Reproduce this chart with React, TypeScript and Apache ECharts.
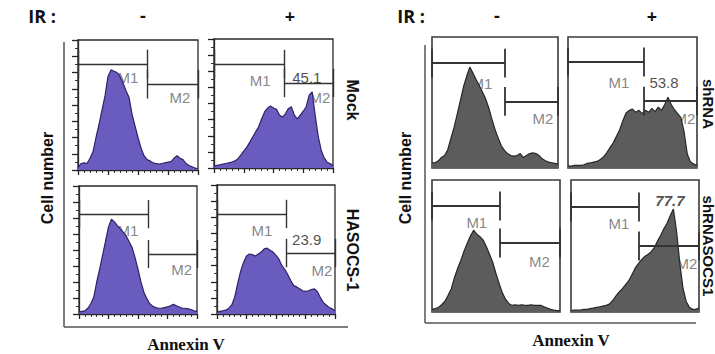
import React, { useEffect, useRef } from 'react';
import * as echarts from 'echarts';

// Histogram heights (% of panel height) at 41 evenly spaced Annexin V channels (0..100)
const mockMinus = [2, 5, 5.5, 5, 9, 14, 25, 35, 46, 57, 72, 77, 76, 75, 72, 67, 61, 56, 43, 34, 25, 17, 11, 8, 7, 5.5, 5, 4.5, 5, 5.5, 6, 6.5, 9, 11, 9, 8, 5, 3.5, 2.5, 1.5, 1];
const mockPlus = [1.5, 2, 2.5, 3, 3.5, 4, 4.5, 5.5, 7, 10, 13, 16, 20, 24, 28, 32, 38, 43.5, 46.5, 48, 46.5, 45.5, 41, 39.5, 42, 46, 47.5, 41, 38, 41, 44, 47.5, 56.5, 59, 41, 25, 14, 8, 4.5, 3.5, 2];
const hasocsMinus = [1.5, 2, 2.5, 4.5, 8, 13, 25, 35, 46, 57, 68, 74, 72, 69, 66.5, 64, 61, 56.5, 52, 44, 35, 25, 17, 12, 8, 6, 5, 4.5, 4.5, 5, 5.5, 6.5, 7.5, 6.5, 5.5, 4.5, 4.5, 4, 3.5, 2.5, 2];
const hasocsPlus = [1.5, 2, 2.5, 3, 4.5, 7, 13, 23.5, 33, 40, 45, 46.5, 46, 45, 46.5, 48, 50.5, 51, 49.5, 48, 45.5, 42.5, 37.5, 34.5, 30.5, 26, 22, 21, 19.5, 18, 17.5, 18, 19, 19.5, 17.5, 13, 9, 7, 5, 4, 2.5];
const shMinus = [4, 4, 5.5, 8, 9.5, 14, 22.5, 31, 41, 51.5, 62, 70, 77, 72.5, 67.5, 63, 58, 53, 46, 37.5, 29.5, 23, 17, 13.5, 11, 9.5, 9, 9.5, 11, 8, 9.5, 11, 11.5, 11, 9.5, 7, 5.5, 4.5, 4, 3.5, 3];
const shPlus = [1.5, 1.5, 2, 2, 2, 2.5, 3.5, 4, 4.5, 5, 6.5, 8.5, 11.5, 15.5, 19, 24, 29, 36, 42, 44, 45, 42.5, 44, 41.5, 44, 42.5, 45.5, 43, 46.5, 44, 48.5, 54, 48.5, 44.5, 41.5, 38.5, 27.5, 10.5, 4.5, 3, 2];
const shSocsMinus = [2, 2.5, 3.5, 5.5, 8, 12.5, 17.5, 26, 33, 39, 46, 52, 57.5, 62, 59, 57, 54.5, 49.5, 43.5, 37.5, 29, 21.5, 14.5, 9.5, 6.5, 5, 5.5, 5, 5.5, 5, 5, 5.5, 5, 5, 5, 4, 3, 2, 1.5, 1, 1];
const shSocsPlus = [1, 1.5, 1.5, 1.5, 2, 2, 2.5, 3, 3.5, 4, 4.5, 5, 6, 8.5, 12, 15, 17.5, 20.5, 23.5, 28, 33, 36.5, 39.5, 42, 43.5, 45.5, 48.5, 53.5, 58, 63, 67, 73, 78, 61, 37, 18, 8, 3.5, 2, 2, 3];

const histograms = [mockMinus, mockPlus, hasocsMinus, hasocsPlus, shMinus, shPlus, shSocsMinus, shSocsPlus];

// Gate markers (data units)
const gateSplit = [57.5, 59, 59, 58.5, 58, 59, 53, 53];
const m1Level = [81.5, 80.6, 78, 77.5, 80, 80.9, 80.3, 79.5];
const m2Level = [66, 65.9, 46.9, 47.3, 50.8, 51, 52.3, 50];
const pctText = ['', '45.1', '', '23.9', '', '53.8', '', '77.7'];

// Label anchor positions in data units [x, y]
const m1Pos = [[41.7, 70.8], [38.7, 68.2], [41.5, 65.6], [38, 65], [39.7, 64.6], [39.5, 64.9], [35, 68], [37.5, 67.4]];
const m2Pos = [[85, 55.4], [89, 54.3], [87, 34.4], [89, 34], [88, 37.7], [90.7, 38], [84, 37.9], [90.6, 37]];
const pctPos = [[0, 0], [78, 70.5], [0, 0], [76, 57.4], [0, 0], [74.4, 64.9], [0, 0], [77.3, 84.8]];

// Panel boxes in pixels [left, top, width, height]
const boxes = [
  [78, 40, 120, 130],
  [214, 39, 119, 129],
  [79, 186, 118, 128],
  [217, 185, 118, 129],
  [432, 37, 126, 131],
  [568, 37, 129, 131],
  [432, 180, 128, 132],
  [571, 180, 128, 132],
];

const PURPLE = '#6a5cbf';
const PURPLE_EDGE = '#2b2366';
const GREY = '#5c5c5c';
const GREY_EDGE = '#262626';

export default function App() {
  const ref = useRef<HTMLDivElement>(null);

  useEffect(() => {
    if (!ref.current) return;
    const chart = echarts.init(ref.current, undefined, { renderer: 'svg' });

    const grids: any[] = [];
    const xAxes: any[] = [];
    const yAxes: any[] = [];
    const series: any[] = [];
    const h = 11;

    histograms.forEach((vals, i) => {
      const [l, t, w, hh] = boxes[i];
      const left = i < 4;
      grids.push({
        left: l, top: t, width: w, height: hh,
        show: true, borderColor: left ? '#2a2a2a' : '#3a3a3a', borderWidth: left ? 1.3 : 1.6,
        backgroundColor: 'transparent',
      });
      xAxes.push({
        type: 'value', gridIndex: i, min: 0, max: 100, interval: 25,
        axisLine: { show: left, lineStyle: { color: '#2a2a2a', width: 1.3 } },
        axisLabel: { show: false },
        splitLine: { show: false },
        axisTick: { show: left, length: 5, lineStyle: { color: '#222', width: 1.3 } },
        minorTick: { show: left, splitNumber: 5, length: 3, lineStyle: { color: '#333', width: 1 } },
      });
      yAxes.push({
        type: 'value', gridIndex: i, min: 0, max: 100, interval: 12.5,
        axisLine: { show: left, lineStyle: { color: '#2a2a2a', width: 1.3 } },
        axisLabel: { show: false },
        splitLine: { show: false },
        axisTick: { show: left, length: 6, lineStyle: { color: '#222', width: 1.3 } },
        minorTick: { show: left, splitNumber: 2, length: 3, lineStyle: { color: '#333', width: 1 } },
      });

      const s = gateSplit[i];
      const m1 = m1Level[i];
      const m2 = m2Level[i];

      // gate labels beneath the histogram
      series.push({
        type: 'scatter', xAxisIndex: i, yAxisIndex: i, z: 1, symbolSize: 0, silent: true,
        itemStyle: { color: 'transparent' },
        data: [
          { value: m1Pos[i], label: { formatter: 'M1' } },
          { value: m2Pos[i], label: { formatter: 'M2' } },
        ],
        label: {
          show: true, position: 'inside', color: '#666666', fontSize: 15,
          textBorderWidth: 0, textBorderColor: 'transparent',
          fontFamily: 'Liberation Sans Narrow, Liberation Sans, sans-serif',
        },
      });

      series.push({
        type: 'line', xAxisIndex: i, yAxisIndex: i, z: 2, silent: true,
        showSymbol: false, symbol: 'none',
        data: vals.map((v, k) => [k * 2.5, v]),
        lineStyle: { color: left ? PURPLE_EDGE : GREY_EDGE, width: 1.2 },
        areaStyle: { color: left ? PURPLE : GREY, opacity: 1 },
        markLine: {
          silent: true, symbol: ['none', 'none'], z: 5,
          label: { show: false },
          lineStyle: { color: '#333', width: left ? 1.4 : 1.8, type: 'solid' },
          data: [
            [{ coord: [0, m1] }, { coord: [s, m1] }],
            [{ coord: [0, m1 - h] }, { coord: [0, m1 + h] }],
            [{ coord: [s, m1 - h] }, { coord: [s, m1 + h] }],
            [{ coord: [s, m2] }, { coord: [100, m2] }],
            [{ coord: [s, m2 - h] }, { coord: [s, m2 + h] }],
            [{ coord: [100, m2 - h] }, { coord: [100, m2 + h] }],
          ],
        },
      });

      if (pctText[i]) {
        series.push({
          type: 'scatter', xAxisIndex: i, yAxisIndex: i, z: 6, symbolSize: 0, silent: true,
          itemStyle: { color: 'transparent' },
          data: [{ value: pctPos[i], label: { formatter: pctText[i] } }],
          label: {
            show: true, position: 'inside', color: '#1e1e1e', fontSize: 15,
            textBorderWidth: 0, textBorderColor: 'transparent',
            fontWeight: i === 7 ? 'bold' : 'normal',
            fontStyle: i === 7 ? 'italic' : 'normal',
            fontFamily: 'Liberation Sans Narrow, Liberation Sans, sans-serif',
          },
        });
      }
    });

    const bold = (text: string, x: number, y: number, size: number, rot = 0, family = 'Liberation Sans, Arial, sans-serif') => ({
      type: 'text', x, y, rotation: rot,
      style: { text, fontSize: size, fontWeight: 'bold', fontFamily: family, fill: '#111', align: 'center', verticalAlign: 'middle' },
    });
    const sans = 'Open Sans, Noto Sans, sans-serif';

    chart.setOption({
      animation: false,
      grid: grids,
      xAxis: xAxes,
      yAxis: yAxes,
      series,
      graphic: [
        // left figure frame
        { type: 'line', shape: { x1: 64, y1: 42, x2: 64, y2: 327 }, style: { stroke: '#555', lineWidth: 1.5 } },
        { type: 'line', shape: { x1: 64, y1: 327, x2: 348, y2: 327 }, style: { stroke: '#555', lineWidth: 1.5 } },
        // right figure frame
        { type: 'line', shape: { x1: 425, y1: 45, x2: 425, y2: 323 }, style: { stroke: '#555', lineWidth: 1.5 } },
        { type: 'line', shape: { x1: 425, y1: 323, x2: 696, y2: 323 }, style: { stroke: '#555', lineWidth: 1.5 } },
        bold('IR :', 42, 16, 18, 0, sans),
        bold('-', 143, 15, 18, 0, sans),
        bold('+', 290, 16, 18, 0, sans),
        bold('IR :', 411, 16, 18, 0, sans),
        bold('-', 497, 15, 18, 0, sans),
        bold('+', 652, 16, 18, 0, sans),
        bold('Cell number', 47, 178, 16, Math.PI / 2),
        bold('Cell number', 405, 178, 16, Math.PI / 2),
        bold('Mock', 352, 100, 16, -Math.PI / 2),
        bold('HASOCS-1', 352, 250, 16, -Math.PI / 2),
        bold('shRNA', 708, 104, 15, -Math.PI / 2),
        bold('shRNASOCS1', 708, 246, 15, -Math.PI / 2),
        bold('Annexin V', 186, 344, 17, 0, 'Liberation Serif, Times New Roman, serif'),
        bold('Annexin V', 571, 340, 17, 0, 'Liberation Serif, Times New Roman, serif'),
      ],
    });

    return () => chart.dispose();
  }, []);

  return <div ref={ref} style={{ position: 'absolute', left: 0, top: 0, width: 715, height: 354, background: '#fff' }} />;
}
